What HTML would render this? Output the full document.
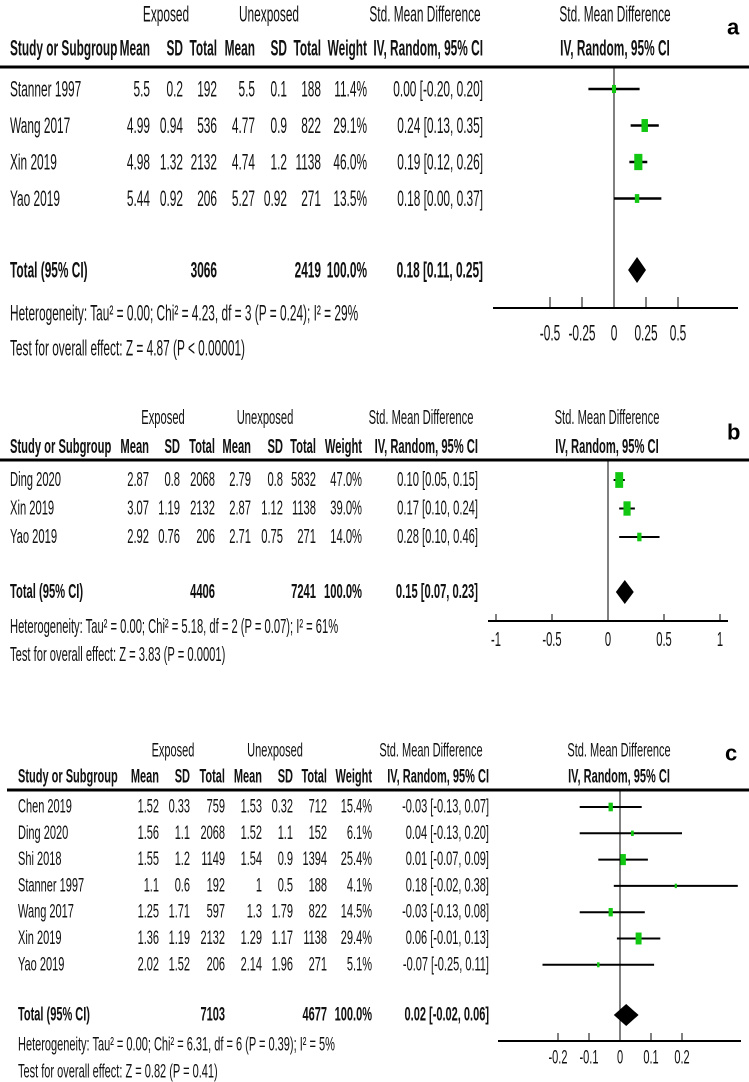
<!DOCTYPE html>
<html><head><meta charset="utf-8"><style>
html,body{margin:0;padding:0;background:#fff;}
svg{display:block;font-family:"Liberation Sans",Arial,sans-serif;}
</style></head><body>
<svg id="fig" width="749" height="1082" viewBox="0 0 749 1082" xmlns="http://www.w3.org/2000/svg"></svg>
<script>
// ---------- Panel a data ----------
const studiesA=["Stanner 1997","Wang 2017","Xin 2019","Yao 2019"];
const meanExpA=["5.5","4.99","4.98","5.44"];
const sdExpA=["0.2","0.94","1.32","0.92"];
const nExpA=[192,536,2132,206];
const meanUnA=["5.5","4.77","4.74","5.27"];
const sdUnA=["0.1","0.9","1.2","0.92"];
const nUnA=[188,822,1138,271];
const weightA=[11.4,29.1,46.0,13.5];
const smdA=[0.00,0.24,0.19,0.18];
const lowA=[-0.20,0.13,0.12,0.00];
const highA=[0.20,0.35,0.26,0.37];
const totalA=[3066,2419,0.18,0.11,0.25];
const ticksA=[-0.5,-0.25,0,0.25,0.5];
const tickLabelsA=["-0.5","-0.25","0","0.25","0.5"];
const hetA="Heterogeneity: Tau² = 0.00; Chi² = 4.23, df = 3 (P = 0.24); I² = 29%";
const testA="Test for overall effect: Z = 4.87 (P < 0.00001)";
// ---------- Panel b data ----------
const studiesB=["Ding 2020","Xin 2019","Yao 2019"];
const meanExpB=["2.87","3.07","2.92"];
const sdExpB=["0.8","1.19","0.76"];
const nExpB=[2068,2132,206];
const meanUnB=["2.79","2.87","2.71"];
const sdUnB=["0.8","1.12","0.75"];
const nUnB=[5832,1138,271];
const weightB=[47.0,39.0,14.0];
const smdB=[0.10,0.17,0.28];
const lowB=[0.05,0.10,0.10];
const highB=[0.15,0.24,0.46];
const totalB=[4406,7241,0.15,0.07,0.23];
const ticksB=[-1,-0.5,0,0.5,1];
const tickLabelsB=["-1","-0.5","0","0.5","1"];
const hetB="Heterogeneity: Tau² = 0.00; Chi² = 5.18, df = 2 (P = 0.07); I² = 61%";
const testB="Test for overall effect: Z = 3.83 (P = 0.0001)";
// ---------- Panel c data ----------
const studiesC=["Chen 2019","Ding 2020","Shi 2018","Stanner 1997","Wang 2017","Xin 2019","Yao 2019"];
const meanExpC=["1.52","1.56","1.55","1.1","1.25","1.36","2.02"];
const sdExpC=["0.33","1.1","1.2","0.6","1.71","1.19","1.52"];
const nExpC=[759,2068,1149,192,597,2132,206];
const meanUnC=["1.53","1.52","1.54","1","1.3","1.29","2.14"];
const sdUnC=["0.32","1.1","0.9","0.5","1.79","1.17","1.96"];
const nUnC=[712,152,1394,188,822,1138,271];
const weightC=[15.4,6.1,25.4,4.1,14.5,29.4,5.1];
const smdC=[-0.03,0.04,0.01,0.18,-0.03,0.06,-0.07];
const lowC=[-0.13,-0.13,-0.07,-0.02,-0.13,-0.01,-0.25];
const highC=[0.07,0.20,0.09,0.38,0.08,0.13,0.11];
const totalC=[7103,4677,0.02,-0.02,0.06];
const ticksC=[-0.2,-0.1,0,0.1,0.2];
const tickLabelsC=["-0.2","-0.1","0","0.1","0.2"];
const hetC="Heterogeneity: Tau² = 0.00; Chi² = 6.31, df = 6 (P = 0.39); I² = 5%";
const testC="Test for overall effect: Z = 0.82 (P = 0.41)";

const NS="http://www.w3.org/2000/svg";
const svg=document.getElementById('fig');
function fmt(v){return (v<0?"-":"")+Math.abs(v).toFixed(2);}
let SX=0.6;
function txt(g,x,y,s,anchor,size,bold,name){
  const t=document.createElementNS(NS,'text');
  t.setAttribute('transform','translate('+x+','+y+') scale('+SX+',1)');
  t.setAttribute('text-anchor',anchor);
  t.setAttribute('dominant-baseline','central');
  t.setAttribute('font-size',size);
  if(bold) t.setAttribute('font-weight','bold');
  t.setAttribute('fill','#111');
  t.textContent=s;
  
  
  g.appendChild(t);return t;
}
function line(g,x1,y1,x2,y2,w,name){
  const l=document.createElementNS(NS,'line');
  l.setAttribute('x1',x1);l.setAttribute('y1',y1);l.setAttribute('x2',x2);l.setAttribute('y2',y2);
  l.setAttribute('stroke','#000');l.setAttribute('stroke-width',w);
  
  
  g.appendChild(l);return l;
}
function panel(P){
  SX=P.sx;
  const g=document.createElementNS(NS,'g');
  
  
  svg.appendChild(g);
  const fs=P.fs, c=P.cols;
  const xs=v=>P.zero+v*P.unit;
  txt(g,P.expC,P.h1,"Exposed","middle",fs,false,'exposed-group-header');
  txt(g,P.unC,P.h1,"Unexposed","middle",fs,false,'unexposed-group-header');
  txt(g,P.smdC,P.h1,"Std. Mean Difference","middle",fs,false,'smd-column-header');
  txt(g,P.plotC,P.h1,"Std. Mean Difference","middle",fs,false,'plot-header');
  txt(g,P.left,P.h2,"Study or Subgroup","start",fs,true,'study-column-header');
  const hd=["Mean","SD","Total","Mean","SD","Total","Weight","IV, Random, 95% CI"];
  hd.forEach((h,i)=>txt(g,c[i],P.h2,h,"end",fs,true,'column-header-'+h.toLowerCase().replace(/[^a-z0-9]+/g,'-')));
  txt(g,P.plotC,P.h2,"IV, Random, 95% CI","middle",fs,true,'plot-subheader');
  const lt=document.createElementNS(NS,'text');
  lt.setAttribute('x',P.letterX);lt.setAttribute('y',P.letterY);
  lt.setAttribute('font-size',22);lt.setAttribute('font-weight','bold');lt.setAttribute('dominant-baseline','central');
  lt.textContent=P.id;
  
  
  g.appendChild(lt);
  line(g,P.lineX1,P.hline,749,P.hline,3,'header-rule');
  line(g,xs(0),P.hline,xs(0),P.axisY,1,'null-effect-line');
  P.studies.forEach((s,i)=>{
    const y=P.r0+i*P.step;
    txt(g,P.left,y,s,"start",fs,false,'study-name');
    const vals=[P.me[i],P.se[i],String(P.ne[i]),P.mu[i],P.su[i],String(P.nu[i]),P.w[i].toFixed(1)+"%",fmt(P.smd[i])+" ["+fmt(P.lo[i])+", "+fmt(P.hi[i])+"]"];
    vals.forEach((v,j)=>txt(g,c[j],y,v,"end",fs,false,'row-value'));
    line(g,xs(P.lo[i]),y,xs(P.hi[i]),y,P.ciW,'ci-line');
    const h=P.sq*Math.sqrt(P.w[i]), w=h*0.5;
    const r=document.createElementNS(NS,'rect');
    r.setAttribute('x',xs(P.smd[i])-w/2);r.setAttribute('y',y-h/2);
    r.setAttribute('width',w);r.setAttribute('height',h);r.setAttribute('fill','#12c712');
    
    
    g.appendChild(r);
  });
  const T=P.tot, ty=P.ty;
  txt(g,P.left,ty,"Total (95% CI)","start",fs,true,'total-label');
  txt(g,c[2],ty,String(T[0]),"end",fs,true,'total-exposed');
  txt(g,c[5],ty,String(T[1]),"end",fs,true,'total-unexposed');
  txt(g,c[6],ty,"100.0%","end",fs,true,'total-weight');
  txt(g,c[7],ty,fmt(T[2])+" ["+fmt(T[3])+", "+fmt(T[4])+"]","end",fs,true,'total-ci');
  const d=document.createElementNS(NS,'polygon');
  d.setAttribute('points',[xs(T[3])+','+ty,xs(T[2])+','+(ty-P.dh),xs(T[4])+','+ty,xs(T[2])+','+(ty+P.dh)].join(' '));
  d.setAttribute('fill','#000');
  
  
  g.appendChild(d);
  txt(g,P.left,P.hy,P.het,"start",fs,false,'heterogeneity-text');
  txt(g,P.left,P.zy,P.test,"start",fs,false,'overall-effect-text');
  line(g,P.ax1,P.axisY,P.ax2,P.axisY,2,'x-axis');
  P.ticks.forEach((t,i)=>{
    line(g,xs(t),P.axisY-P.tk,xs(t),P.axisY,1,'x-tick');
    txt(g,xs(t),P.ly,P.tl[i],"middle",fs,false,'x-tick-label');
  });
}
panel({id:'a',fs:22,sx:0.54,left:10,cols:[150,183,217,255,287,321,367,483],expC:166,unC:269,smdC:425,plotC:615,
  h1:14,h2:48,hline:67,lineX1:0,letterX:727,letterY:27,r0:89,step:36.5,ty:270,hy:313,zy:348,
  zero:614,unit:128,ax1:493,ax2:738,axisY:308,tk:11,ly:333,ciW:2.4,sq:2.4,dh:13,
  studies:studiesA,me:meanExpA,se:sdExpA,ne:nExpA,mu:meanUnA,su:sdUnA,nu:nUnA,w:weightA,smd:smdA,lo:lowA,hi:highA,
  tot:totalA,ticks:ticksA,tl:tickLabelsA,het:hetA,test:testA});
panel({id:'b',fs:20,sx:0.56,left:10,cols:[149,180,215,251,283,316,362,478],expC:163,unC:265,smdC:421,plotC:607,
  h1:418,h2:447,hline:460,lineX1:0,letterX:727,letterY:432,r0:480,step:28.5,ty:592,hy:627,zy:655,
  zero:608,unit:112,ax1:488,ax2:728,axisY:621,tk:7,ly:640,ciW:2,sq:2.3,dh:12,
  studies:studiesB,me:meanExpB,se:sdExpB,ne:nExpB,mu:meanUnB,su:sdUnB,nu:nUnB,w:weightB,smd:smdB,lo:lowB,hi:highB,
  tot:totalB,ticks:ticksB,tl:tickLabelsB,het:hetB,test:testB});
panel({id:'c',fs:19,sx:0.58,left:18,cols:[159,190,225,262,293,327,372,489],expC:173,unC:275,smdC:431,plotC:619,
  h1:751,h2:777,hline:790,lineX1:7,letterX:725,letterY:753,r0:807,step:26.3,ty:1015,hy:1045,zy:1072,
  zero:620,unit:310,ax1:498,ax2:741,axisY:1041,tk:8,ly:1058,ciW:2,sq:2.2,dh:11,
  studies:studiesC,me:meanExpC,se:sdExpC,ne:nExpC,mu:meanUnC,su:sdUnC,nu:nUnC,w:weightC,smd:smdC,lo:lowC,hi:highC,
  tot:totalC,ticks:ticksC,tl:tickLabelsC,het:hetC,test:testC});
</script>
</body></html>
